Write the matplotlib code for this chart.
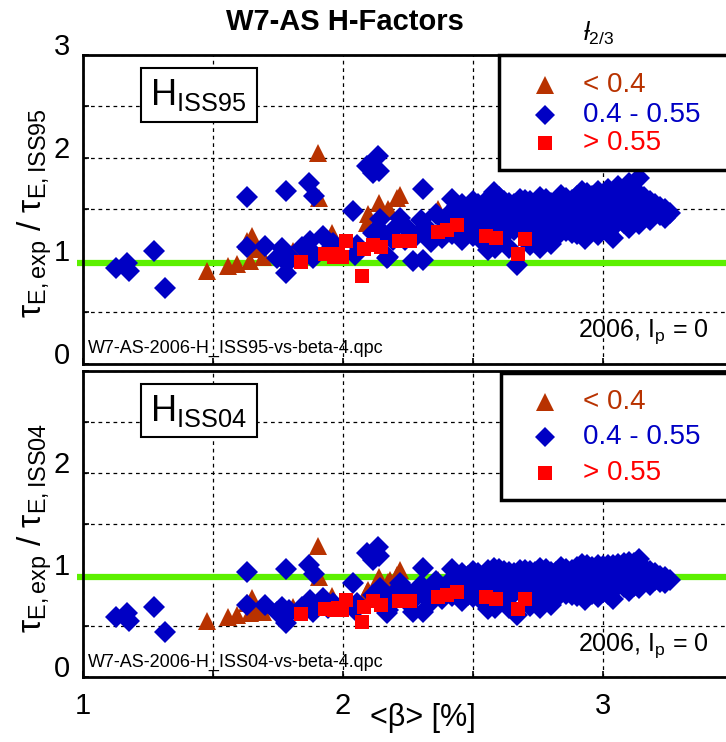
import matplotlib
matplotlib.use("Agg")
import matplotlib.pyplot as plt
from matplotlib.patches import Rectangle

plt.rcParams["font.family"] = ["Liberation Sans", "DejaVu Sans"]
plt.rcParams["mathtext.fontset"] = "custom"
plt.rcParams["mathtext.rm"] = "Liberation Sans"
plt.rcParams["mathtext.it"] = "Liberation Sans:italic"
plt.rcParams["mathtext.bf"] = "Liberation Sans:bold"

# <beta> [%] and H-factors (ISS95 / ISS04) per iota class
beta_lo = [1.477, 1.56, 1.595, 1.643, 1.65, 1.631, 1.669, 1.695, 1.81, 1.906,
           1.91, 1.958, 2.098, 2.092, 2.141, 2.175, 2.207, 2.22, 2.18, 2.368]
h95_lo = [0.905, 0.95, 0.967, 1.00, 1.24, 1.19, 1.11, 1.04, 1.09, 2.05,
          1.61, 1.27, 1.45, 1.37, 1.56, 1.50, 1.61, 1.64, 1.48, 1.50]
h04_lo = [0.551, 0.59, 0.607, 0.623, 0.77, 0.72, 0.655, 0.64, 0.69, 1.282,
          0.981, 0.79, 0.85, 0.83, 0.98, 0.93, 1.0, 1.047, 0.95, 0.95]

beta_mid = [1.128, 1.169, 1.179, 1.274, 1.317, 1.631, 1.781, 1.872, 1.89, 2.038,
            2.137, 2.095, 2.115, 2.14, 2.143, 1.631, 1.70, 1.765, 1.746, 1.785,
            1.782, 1.795, 1.842, 1.874, 1.887, 1.925, 1.964, 1.945, 1.874, 2.054,
            2.048, 2.118, 2.163, 2.201, 2.169, 2.195, 2.669, 2.272, 2.308, 2.31,
            2.586, 2.175,
            2.22, 2.25, 2.28, 2.30, 2.33, 2.36, 2.38, 2.40, 2.24, 2.34,
            2.42, 2.42, 2.42, 2.42, 2.46, 2.46, 2.46, 2.46,
            2.50, 2.50, 2.50, 2.50, 2.54, 2.54, 2.54, 2.54,
            2.58, 2.58, 2.58, 2.58, 2.58, 2.62, 2.62, 2.62, 2.62,
            2.66, 2.66, 2.66, 2.70, 2.70, 2.70,
            2.74, 2.74, 2.74, 2.74, 2.78, 2.78, 2.78, 2.78,
            2.82, 2.82, 2.82, 2.82, 2.86, 2.86, 2.86, 2.86,
            2.90, 2.90, 2.90, 2.90, 2.94, 2.94, 2.94, 2.94,
            2.98, 2.98, 2.98, 2.98, 2.98, 3.02, 3.02, 3.02, 3.02, 3.02,
            3.06, 3.06, 3.06, 3.06, 3.10, 3.10, 3.10, 3.10, 3.10,
            3.14, 3.14, 3.14, 3.14, 3.18, 3.18, 3.18, 3.22, 3.22, 3.26,
            2.44, 2.44, 2.44, 2.48, 2.48, 2.48, 2.52, 2.52, 2.52,
            2.56, 2.56, 2.56, 2.56, 2.60, 2.60, 2.60, 2.60,
            2.64, 2.64, 2.64, 2.68, 2.68, 2.68, 2.72, 2.72, 2.72,
            2.76, 2.76, 2.76, 2.76, 2.80, 2.80, 2.80, 2.80,
            2.84, 2.84, 2.84, 2.84, 2.88, 2.88, 2.88, 2.88,
            2.92, 2.92, 2.92, 2.92, 2.96, 2.96, 2.96, 2.96,
            3.00, 3.00, 3.00, 3.00, 3.04, 3.04, 3.04, 3.04,
            3.08, 3.08, 3.08, 3.08, 3.12, 3.12, 3.12, 3.12,
            3.16, 3.16, 3.16, 3.20, 3.20, 3.24, 3.24,
            2.56, 2.64, 2.72, 2.76, 2.80, 2.93, 3.04]
h95_mid = [0.928, 0.977, 0.905, 1.09, 0.733, 1.62, 1.68, 1.755, 1.625, 1.48,
           2.02, 1.917, 1.853, 1.87, 1.405, 1.13, 1.145, 1.12, 1.025, 0.977,
           0.88, 1.048, 1.138, 1.106, 1.025, 1.236, 1.171, 1.09, 1.187, 1.155,
           1.057, 1.27, 1.252, 1.317, 1.025, 1.203, 0.96, 1.002, 1.009, 1.697,
           1.122, 1.041,
           1.42, 1.31, 1.24, 1.40, 1.30, 1.45, 1.22, 1.36, 1.20, 1.18,
           1.60, 1.48, 1.36, 1.26, 1.55, 1.44, 1.30, 1.20,
           1.58, 1.47, 1.36, 1.24, 1.52, 1.40, 1.28, 1.18,
           1.67, 1.55, 1.44, 1.33, 1.22, 1.58, 1.46, 1.36, 1.25,
           1.55, 1.42, 1.30, 1.59, 1.48, 1.37,
           1.56, 1.44, 1.32, 1.20, 1.60, 1.50, 1.39, 1.28,
           1.57, 1.46, 1.34, 1.23, 1.61, 1.51, 1.40, 1.29,
           1.63, 1.52, 1.41, 1.26, 1.66, 1.55, 1.44, 1.33,
           1.68, 1.57, 1.46, 1.35, 1.25, 1.70, 1.59, 1.48, 1.37, 1.28,
           1.73, 1.62, 1.50, 1.40, 1.76, 1.64, 1.52, 1.42, 1.32,
           1.80, 1.56, 1.45, 1.36, 1.58, 1.48, 1.40, 1.52, 1.44, 1.46,
           1.53, 1.41, 1.30, 1.52, 1.40, 1.27, 1.55, 1.43, 1.31,
           1.60, 1.48, 1.37, 1.26, 1.62, 1.50, 1.40, 1.29,
           1.56, 1.46, 1.35, 1.60, 1.50, 1.38, 1.58, 1.46, 1.34,
           1.62, 1.52, 1.40, 1.30, 1.56, 1.44, 1.33, 1.24,
           1.64, 1.53, 1.42, 1.30, 1.59, 1.47, 1.36, 1.27,
           1.68, 1.58, 1.48, 1.37, 1.63, 1.51, 1.40, 1.29,
           1.64, 1.53, 1.42, 1.31, 1.67, 1.55, 1.44, 1.33,
           1.70, 1.58, 1.46, 1.37, 1.70, 1.60, 1.49, 1.39,
           1.62, 1.52, 1.43, 1.55, 1.46, 1.50, 1.42,
           1.10, 1.12, 1.15, 1.12, 1.16, 1.21, 1.22]
h04_mid = [0.584, 0.623, 0.551, 0.688, 0.443, 1.03, 1.057, 1.096, 1.008, 0.917,
           1.275, 1.21, 1.145, 1.19, 0.868, 0.705, 0.705, 0.688, 0.64, 0.607,
           0.525, 0.66, 0.688, 0.72, 0.64, 0.77, 0.72, 0.68, 0.75, 0.72,
           0.66, 0.80, 0.79, 0.835, 0.623, 0.76, 0.61, 0.64, 0.64, 1.063,
           0.672, 0.66,
           0.92, 0.83, 0.78, 0.90, 0.82, 0.94, 0.76, 0.87, 0.75, 0.73,
           1.06, 0.96, 0.87, 0.79, 1.02, 0.93, 0.82, 0.745,
           1.04, 0.955, 0.87, 0.78, 0.99, 0.90, 0.81, 0.73,
           1.07, 1.02, 0.93, 0.85, 0.76, 1.04, 0.95, 0.87, 0.78,
           1.02, 0.92, 0.82, 1.05, 0.96, 0.88,
           1.03, 0.93, 0.84, 0.745, 1.06, 0.98, 0.89, 0.81,
           1.03, 0.95, 0.85, 0.77, 1.06, 0.99, 0.90, 0.815,
           1.08, 0.99, 0.91, 0.79, 1.10, 1.02, 0.93, 0.85,
           1.10, 1.03, 0.95, 0.86, 0.78, 1.10, 1.05, 0.96, 0.88, 0.81,
           1.11, 1.07, 0.98, 0.90, 1.13, 1.09, 0.99, 0.92, 0.84,
           1.16, 1.03, 0.94, 0.87, 1.04, 0.96, 0.90, 0.99, 0.93, 0.95,
           1.00, 0.91, 0.82, 0.99, 0.90, 0.80, 1.02, 0.92, 0.83,
           1.05, 0.96, 0.88, 0.79, 1.06, 0.98, 0.90, 0.815,
           1.03, 0.95, 0.86, 1.05, 0.98, 0.89, 1.04, 0.95, 0.85,
           1.07, 0.99, 0.90, 0.82, 1.03, 0.93, 0.85, 0.78,
           1.08, 1.00, 0.92, 0.82, 1.05, 0.96, 0.87, 0.80,
           1.11, 1.04, 0.96, 0.88, 1.08, 0.99, 0.90, 0.815,
           1.09, 1.00, 0.92, 0.83, 1.10, 1.02, 0.93, 0.85,
           1.12, 1.04, 0.95, 0.88, 1.12, 1.05, 0.97, 0.89,
           1.07, 0.99, 0.93, 1.02, 0.95, 0.98, 0.92,
           0.67, 0.68, 0.70, 0.68, 0.71, 0.75, 0.76]

beta_hi = [1.84, 1.93, 1.965, 1.998, 2.012, 2.075, 2.082, 2.115, 2.147, 2.218,
           2.259, 2.365, 2.403, 2.441, 2.55, 2.589, 2.70, 2.676, 1.98]
h95_hi = [0.99, 1.07, 1.04, 1.035, 1.19, 0.85, 1.11, 1.155, 1.13, 1.19,
          1.19, 1.28, 1.30, 1.35, 1.24, 1.22, 1.21, 1.07, 1.07]
h04_hi = [0.62, 0.67, 0.655, 0.655, 0.75, 0.54, 0.69, 0.74, 0.705, 0.74,
          0.74, 0.785, 0.80, 0.835, 0.785, 0.76, 0.76, 0.67, 0.68]

class_labels = ["< 0.4", "0.4 - 0.55", "> 0.55"]
ytick_labels_top = ["0", "", "1", "", "2", "", "3"]
ytick_labels_bottom = ["0", "", "1", "", "2", "", ""]
xtick_labels = ["1", "", "2", "", "3", ""]

COLOR_LO = "#b83200"
COLOR_MID = "#0000c4"
COLOR_HI = "#ff0000"
GREEN = "#5cf000"
MARKERS = [("^", 13, COLOR_LO), ("D", 11, COLOR_MID), ("s", 10, COLOR_HI)]


def draw_panel(ax, h_lo, h_mid, h_hi, scaling, legend_box, legend_rows, ytick_labels):
    ax.set_xlim(1, 3.5)
    ax.set_ylim(0, 3)
    ax.set_xticks([1, 1.5, 2, 2.5, 3, 3.5])
    ax.set_yticks([0, 0.5, 1, 1.5, 2, 2.5, 3])
    ax.set_yticklabels(ytick_labels)
    for lab in ax.get_yticklabels():
        lab.set_verticalalignment("baseline")
    ax.tick_params(direction="in", length=4, width=1.2, labelsize=21, pad=9)
    ax.grid(True, color="black", linestyle=(0, (3, 3)), linewidth=0.9)
    ax.set_axisbelow(True)
    for sp in ax.spines.values():
        sp.set_linewidth(2)

    # reference line at H = 1
    ax.plot([0.977, 3.5], [0.975, 0.975], color=GREEN, linewidth=4.5,
            solid_capstyle="butt", zorder=2, clip_on=False)

    series = [(beta_lo, h_lo), (beta_mid, h_mid), (beta_hi, h_hi)]
    for i, (xs, ys) in enumerate(series):
        m, ms, c = MARKERS[i]
        ax.plot(xs, ys, linestyle="none", marker=m, markersize=ms,
                color=c, markeredgewidth=0, zorder=3 + i)

    # scaling law box
    ax.add_patch(Rectangle((0.0897, 0.783), 0.178, 0.174, transform=ax.transAxes,
                           facecolor="white", edgecolor="black", linewidth=1.5, zorder=6))
    ax.text(0.178, 0.870, "H$_{\\mathrm{" + scaling + "}}$", transform=ax.transAxes,
            fontsize=26, ha="center", va="center", zorder=7)

    # legend
    x0, y0, h = legend_box
    ax.add_patch(Rectangle((x0, y0), 0.6, h, transform=ax.transAxes,
                           facecolor="white", edgecolor="black", linewidth=2.5,
                           zorder=6, clip_on=False))
    for i, yy in enumerate(legend_rows):
        m, ms, c = MARKERS[i]
        ax.plot([0.711], [yy], transform=ax.transAxes, linestyle="none",
                marker=m, markersize=ms * 0.95, color=c, markeredgewidth=0,
                zorder=7, clip_on=False)
        ax.text(0.770, yy, class_labels[i], transform=ax.transAxes, color=c,
                fontsize=20, ha="left", va="center", zorder=7)

    ax.text(0.008, 0.048, "W7-AS-2006-H_" + scaling + "-vs-beta-4.qpc",
            transform=ax.transAxes, fontsize=13, ha="left", va="center")
    ax.text(0.762, 0.103, "2006, I$_{\\mathrm{p}}$ = 0", transform=ax.transAxes,
            fontsize=18, ha="left", va="center")


fig = plt.figure(figsize=(7.26, 7.42), dpi=100)
ax1 = fig.add_axes([82.7 / 726, 1 - 363.6 / 742, 650 / 726, 308.6 / 742])
ax2 = fig.add_axes([82.7 / 726, 1 - 677 / 742, 650 / 726, 306.3 / 742])

draw_panel(ax1, h95_lo, h95_mid, h95_hi, "ISS95", (0.640, 0.627, 0.373),
           [0.903, 0.806, 0.715], ytick_labels_top)
draw_panel(ax2, h04_lo, h04_mid, h04_hi, "ISS04", (0.6435, 0.578, 0.414),
           [0.898, 0.784, 0.666], ytick_labels_bottom)

ax1.set_xticklabels([])
ax2.set_xticklabels(xtick_labels)
ax2.tick_params(axis="x", pad=11)

fig.text(0.048, 1 - 213 / 742, "τ$_{\\mathrm{E,exp}}$ / τ$_{\\mathrm{E,ISS95}}$",
         fontsize=24, rotation=90, ha="center", va="center")
fig.text(0.048, 1 - 528 / 742, "τ$_{\\mathrm{E,exp}}$ / τ$_{\\mathrm{E,ISS04}}$",
         fontsize=24, rotation=90, ha="center", va="center")

fig.text(345 / 726, 1 - 22 / 742, "W7-AS H-Factors", fontsize=21,
         fontweight="bold", ha="center", va="center")
fig.text(583 / 726, 1 - 33 / 742, "ƚ$_{\\mathrm{2/3}}$", fontsize=18,
         fontstyle="italic", ha="left", va="center")
fig.text(423 / 726, 1 - 718 / 742, "<β> [%]", fontsize=22, ha="center", va="center")

fig.savefig("out.png", dpi=100)
